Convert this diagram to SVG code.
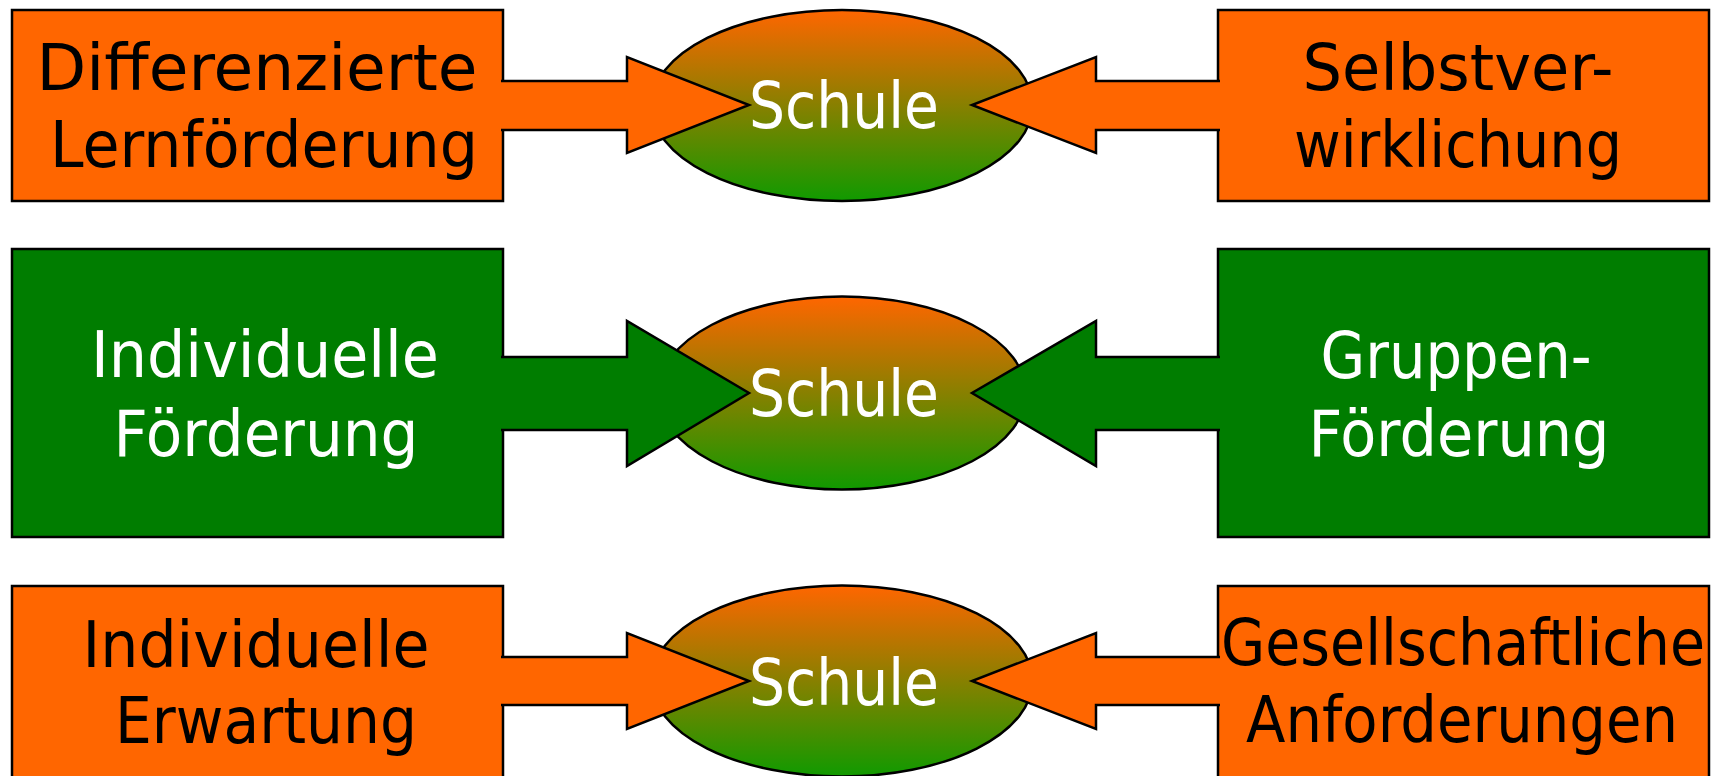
<svg xmlns="http://www.w3.org/2000/svg" width="1712" height="776" viewBox="0 0 1712 776">
<style>
.bo{fill:#FF6600;stroke:#000;stroke-width:2.5}
.bg{fill:#007D00;stroke:#000;stroke-width:2.5}
.el{fill:url(#grad);stroke:#000;stroke-width:2.5}
.ao{fill:#FF6600;stroke:#000;stroke-width:2.5;stroke-linejoin:miter}
.ag{fill:#007D00;stroke:#000;stroke-width:2.5;stroke-linejoin:miter}
text{font-family:"DejaVu Sans","Liberation Sans",sans-serif;font-size:64px;text-anchor:middle}
.tk{fill:#000}
.tw{fill:#fff}
</style>
<defs>
<linearGradient id="grad" x1="0" y1="0" x2="0" y2="1">
<stop offset="0" stop-color="#FF6600"/>
<stop offset="1" stop-color="#109A00"/>
</linearGradient>
</defs>
<rect width="1712" height="776" fill="#fff"/>

<g id="node-differenzierte">
<rect class="bo" x="12" y="10" width="491" height="191"/>
<text class="tk" x="257" y="90" textLength="441" lengthAdjust="spacingAndGlyphs">Differenzierte</text>
<text class="tk" x="264" y="167" textLength="428" lengthAdjust="spacingAndGlyphs">Lernförderung</text>
</g>
<g id="node-selbstverwirklichung">
<rect class="bo" x="1218" y="10" width="491" height="191"/>
<text class="tk" x="1458" y="90" textLength="311" lengthAdjust="spacingAndGlyphs">Selbstver-</text>
<text class="tk" x="1458" y="167" textLength="328" lengthAdjust="spacingAndGlyphs">wirklichung</text>
</g>
<g id="node-individuelle-foerderung">
<rect class="bg" x="12" y="249" width="491" height="288"/>
<text class="tw" x="265" y="377" textLength="348" lengthAdjust="spacingAndGlyphs">Individuelle</text>
<text class="tw" x="266" y="456" textLength="305" lengthAdjust="spacingAndGlyphs">Förderung</text>
</g>
<g id="node-gruppen-foerderung">
<rect class="bg" x="1218" y="249" width="491" height="288"/>
<text class="tw" x="1456" y="378" textLength="271" lengthAdjust="spacingAndGlyphs">Gruppen-</text>
<text class="tw" x="1459" y="456" textLength="301" lengthAdjust="spacingAndGlyphs">Förderung</text>
</g>
<g id="node-individuelle-erwartung">
<rect class="bo" x="12" y="586" width="491" height="210"/>
<text class="tk" x="256" y="667" textLength="347" lengthAdjust="spacingAndGlyphs">Individuelle</text>
<text class="tk" x="266" y="743" textLength="302" lengthAdjust="spacingAndGlyphs">Erwartung</text>
</g>
<g id="node-gesellschaftliche">
<rect class="bo" x="1218" y="586" width="491" height="210"/>
<text class="tk" x="1463" y="665" textLength="484" lengthAdjust="spacingAndGlyphs">Gesellschaftliche</text>
<text class="tk" x="1462" y="742" textLength="432" lengthAdjust="spacingAndGlyphs">Anforderungen</text>
</g>

<g id="node-schule-1">
<ellipse class="el" cx="842" cy="105.5" rx="190.5" ry="95.5"/>
</g>
<g id="node-schule-2">
<ellipse class="el" cx="842" cy="393" rx="184" ry="96.5"/>
</g>
<g id="node-schule-3">
<ellipse class="el" cx="842" cy="681" rx="190.5" ry="95.5"/>
</g>

<g id="connectors">
<path class="ao" d="M501,81 H627 V57 L749,105 L627,153 V130 H501"/>
<path class="ao" d="M1220,81 H1096 V57 L972,105 L1096,153 V130 H1220"/>
<path class="ag" d="M501,357 H627 V321 L749,393 L627,466 V430 H501"/>
<path class="ag" d="M1220,357 H1096 V321 L972,393 L1096,466 V430 H1220"/>
<path class="ao" d="M501,657 H627 V633 L749,681 L627,729 V705 H501"/>
<path class="ao" d="M1220,657 H1096 V633 L972,681 L1096,729 V705 H1220"/>
</g>

<g id="labels-schule">
<text class="tw" x="844" y="128" textLength="190" lengthAdjust="spacingAndGlyphs">Schule</text>
<text class="tw" x="844" y="416" textLength="190" lengthAdjust="spacingAndGlyphs">Schule</text>
<text class="tw" x="844" y="705" textLength="190" lengthAdjust="spacingAndGlyphs">Schule</text>
</g>
</svg>
